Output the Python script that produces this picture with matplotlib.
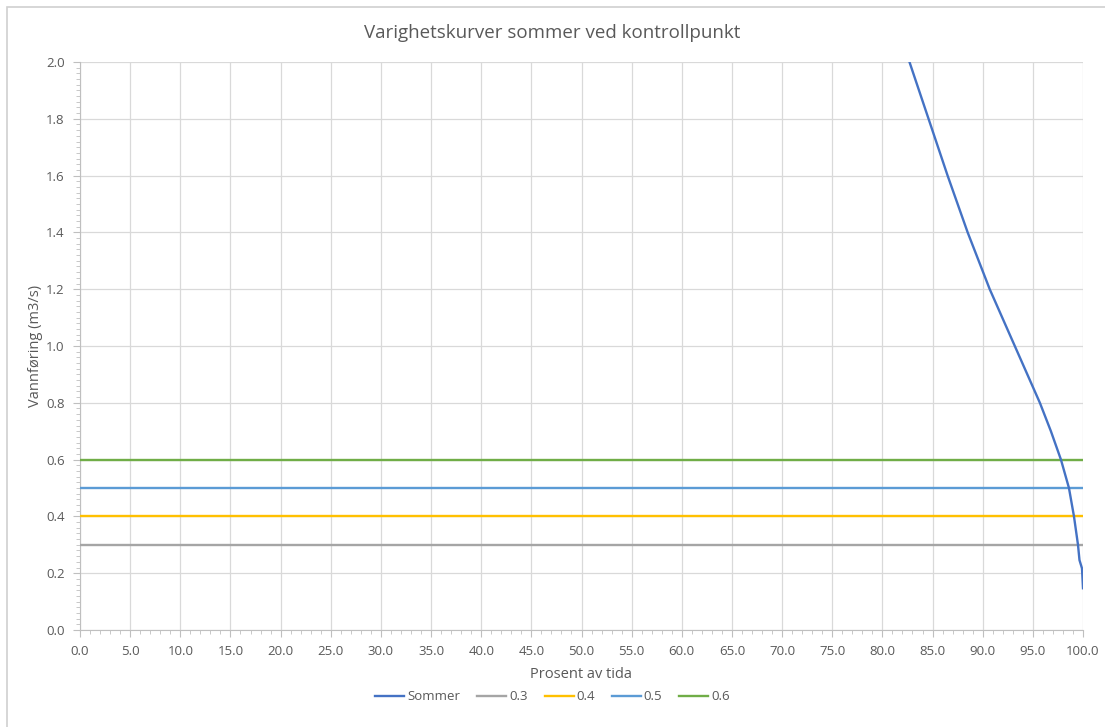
import numpy as np
import matplotlib.pyplot as plt
import matplotlib.ticker as mticker
from matplotlib.patches import Rectangle

# data
sommer_pct = [82.7, 84.6, 86.5, 88.5, 90.7, 93.2, 95.7, 96.8, 97.8,
              98.6, 99.1, 99.5, 99.65, 99.9, 100.0]
sommer_q   = [2.0, 1.8, 1.6, 1.4, 1.2, 1.0, 0.8, 0.7, 0.6,
              0.5, 0.4, 0.3, 0.246, 0.217, 0.147]
levels     = [0.3, 0.4, 0.5, 0.6]
level_x    = [0.0, 100.0]
series_names = ["Sommer", "0.3", "0.4", "0.5", "0.6"]
COLORS = ["#4472C4", "#A5A5A5", "#FFC000", "#5B9BD5", "#70AD47"]

plt.rcParams["font.family"] = ["Open Sans", "DejaVu Sans"]
GREY = "#595959"

fig = plt.figure(figsize=(11.05, 7.27), dpi=100)
ax = fig.add_axes([80 / 1105, 1 - 630 / 727, (1083 - 80) / 1105, (630 - 62) / 727])

# chart border (cropped at right/bottom like the screenshot)
fig.patches.append(Rectangle((7 / 1105, -0.05), 1.2, 1 - 7 / 727 + 0.05,
                             transform=fig.transFigure, fill=False,
                             edgecolor="#D0D0D0", linewidth=1.2))

ax.plot(sommer_pct, sommer_q, color=COLORS[0], lw=1.7, label=series_names[0], zorder=5)
for lev, col, name in zip(levels, COLORS[1:], series_names[1:]):
    ax.plot(level_x, [lev, lev], color=col, lw=1.7, label=name, zorder=4)

ax.set_xlim(0, 100)
ax.set_ylim(0, 2.0)
ax.xaxis.set_major_locator(mticker.MultipleLocator(5))
ax.xaxis.set_minor_locator(mticker.MultipleLocator(1))
ax.yaxis.set_major_locator(mticker.MultipleLocator(0.2))
ax.yaxis.set_minor_locator(mticker.MultipleLocator(0.02))
ax.xaxis.set_major_formatter(mticker.FormatStrFormatter("%.1f"))
ax.yaxis.set_major_formatter(mticker.FormatStrFormatter("%.1f"))

ax.grid(True, which="major", color="#D9D9D9", lw=0.9)
for s in ["top", "right"]:
    ax.spines[s].set_visible(False)
for s in ["left", "bottom"]:
    ax.spines[s].set_color("#BFBFBF")
ax.tick_params(which="major", length=5, color="#BFBFBF", labelcolor=GREY, labelsize=9.5)
ax.tick_params(which="minor", length=3, color="#BFBFBF")
ax.tick_params(axis="x", direction="out", pad=6)
ax.tick_params(axis="y", direction="out", pad=6)

ax.set_xlabel("Prosent av tida", color=GREY, fontsize=10.5, labelpad=6)
ax.set_ylabel("Vannføring (m3/s)", color=GREY, fontsize=10.5, labelpad=2)
fig.suptitle("Varighetskurver sommer ved kontrollpunkt", color=GREY,
             fontsize=13.5, y=1 - 33 / 727, va="center")

fig.legend(loc="center", bbox_to_anchor=(0.5, 1 - 697 / 727), ncol=5, frameon=False,
           fontsize=9.5, labelcolor=GREY, handlelength=2.2, handletextpad=0.2,
           columnspacing=1.3)

plt.savefig("out.png", dpi=100)
